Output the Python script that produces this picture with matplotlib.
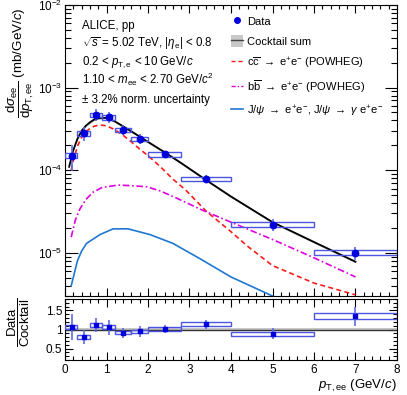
import numpy as np
import matplotlib
matplotlib.use("Agg")
import matplotlib.pyplot as plt
from matplotlib.ticker import LogLocator, MultipleLocator, FixedLocator, FuncFormatter, NullFormatter
from matplotlib.patches import Patch
from matplotlib.lines import Line2D
from matplotlib.legend_handler import HandlerTuple

plt.rcParams['font.family'] = ['Liberation Sans', 'DejaVu Sans']
plt.rcParams['mathtext.fontset'] = 'custom'
plt.rcParams['mathtext.rm'] = 'Liberation Sans'
plt.rcParams['mathtext.it'] = 'Liberation Sans:italic'
plt.rcParams['mathtext.bf'] = 'Liberation Sans:bold'
plt.rcParams['mathtext.sf'] = 'Liberation Sans'

# ---------------- data ----------------
bin_lo = [0.0, 0.3, 0.6, 0.9, 1.2, 1.6, 2.0, 2.8, 4.0, 6.0]
bin_hi = [0.3, 0.6, 0.9, 1.2, 1.6, 2.0, 2.8, 4.0, 6.0, 8.0]
pt_data = [0.16, 0.45, 0.75, 1.05, 1.4, 1.8, 2.4, 3.4, 5.0, 7.0]
xsec = [1.5e-4, 2.8e-4, 4.7e-4, 4.35e-4, 3.1e-4, 2.4e-4, 1.55e-4, 7.9e-5, 2.2e-5, 1.0e-5]
stat_rel = [0.34, 0.19, 0.17, 0.15, 0.15, 0.13, 0.10, 0.12, 0.16, 0.19]
sys_rel = [0.07, 0.07, 0.06, 0.06, 0.06, 0.06, 0.06, 0.06, 0.06, 0.07]

ratio = [1.06, 0.80, 1.12, 1.06, 0.92, 0.95, 1.01, 1.14, 0.89, 1.35]
ratio_stat = [0.34, 0.18, 0.18, 0.20, 0.13, 0.14, 0.10, 0.12, 0.14, 0.25]
ratio_sys = [0.05, 0.05, 0.05, 0.05, 0.05, 0.05, 0.05, 0.06, 0.05, 0.07]

cocktail_pt = [0.1, 0.2, 0.3, 0.4, 0.5, 0.6, 0.7, 0.8, 0.9, 1.0, 1.2, 1.4, 1.6, 1.8,
               2.0, 2.4, 2.8, 3.4, 4.0, 5.0, 6.0, 7.0]
cocktail = [1.1e-4, 1.75e-4, 2.4e-4, 3.0e-4, 3.45e-4, 3.8e-4, 4.1e-4, 4.25e-4, 4.3e-4,
            4.3e-4, 3.9e-4, 3.4e-4, 2.95e-4, 2.55e-4, 2.2e-4, 1.65e-4, 1.22e-4, 7.6e-5,
            4.8e-5, 2.35e-5, 1.35e-5, 7.8e-6]
cocktail_band_rel = 0.03

cc_pt = [0.15, 0.2, 0.3, 0.4, 0.5, 0.6, 0.7, 0.8, 0.9, 1.0, 1.2, 1.4, 1.6, 1.8, 2.0,
         2.3, 2.6, 2.9, 3.4, 4.0, 4.4, 5.0, 6.0, 7.0]
cc = [1.0e-4, 1.3e-4, 1.95e-4, 2.5e-4, 2.9e-4, 3.2e-4, 3.4e-4, 3.5e-4, 3.5e-4, 3.45e-4,
      3.1e-4, 2.65e-4, 2.2e-4, 1.8e-4, 1.5e-4, 1.1e-4, 7.8e-5, 5.8e-5, 3.2e-5, 1.8e-5,
      1.2e-5, 7.0e-6, 4.3e-6, 3.1e-6]

bb_pt = [0.15, 0.25, 0.36, 0.5, 0.67, 0.9, 1.28, 1.6, 1.97, 2.3, 2.77, 3.3, 4.0, 5.0, 6.0, 7.0]
bb = [1.55e-5, 2.5e-5, 3.4e-5, 4.4e-5, 5.4e-5, 6.2e-5, 6.6e-5, 6.5e-5, 6.3e-5, 5.6e-5,
      4.4e-5, 3.3e-5, 2.35e-5, 1.45e-5, 8.7e-6, 5.1e-6]

jpsi_pt = [0.15, 0.3, 0.4, 0.52, 0.84, 1.16, 1.52, 2.05, 2.6, 3.25, 4.0, 5.0]
jpsi = [4.0e-6, 8.0e-6, 1.05e-5, 1.3e-5, 1.66e-5, 1.95e-5, 1.95e-5, 1.66e-5, 1.3e-5,
        8.5e-6, 5.1e-6, 3.0e-6]

# ---------------- figure ----------------
W, H = 407, 395
fig = plt.figure(figsize=(W / 100, H / 100), dpi=100)
L, R = 65, 397
ax = fig.add_axes([L / W, 1 - 296 / H, (R - L) / W, (296 - 5) / H])
axr = fig.add_axes([L / W, 1 - 360 / H, (R - L) / W, (360 - 299) / H])

data_c = '#0000dd'
err_c = '#5b6be6'
box_c = '#4b55e0'
fs = 8.3
lfs = 8.0
tfs = 8.5

lo = np.array(bin_lo); hi = np.array(bin_hi)
xs = np.array(xsec); sr = np.array(sys_rel); st = np.array(stat_rel)

# top panel
cpt = np.array(cocktail_pt); cv = np.array(cocktail)
ax.fill_between(cpt, cv * (1 - cocktail_band_rel), cv * (1 + cocktail_band_rel),
                color='#bbbbbb', lw=0, zorder=1)
ax.plot(cc_pt, cc, color='#ff1a1a', lw=1.2, dashes=(3, 2), zorder=2)
ax.plot(bb_pt, bb, color='#e000e0', lw=1.2, dashes=(4, 1.6, 1, 1.6), zorder=2)
ax.plot(jpsi_pt, jpsi, color='#1f78d0', lw=1.2, zorder=2)
ax.plot(cpt, cv, color='black', lw=1.3, zorder=3)
ax.bar(lo, xs * 2 * sr, width=hi - lo, bottom=xs * (1 - sr), align='edge',
       fill=False, edgecolor=box_c, lw=1.0, zorder=4)
ax.errorbar(pt_data, xs, yerr=xs * st, fmt='o', ms=4.6, color=data_c, ecolor=err_c,
            elinewidth=1.2, capsize=0, zorder=5)

ax.set_xlim(0, 8)
ax.set_yscale('log')
ax.set_ylim(3.0e-6, 1e-2)
ax.yaxis.set_major_locator(LogLocator(base=10, numticks=10))
ax.yaxis.set_minor_locator(LogLocator(base=10, subs=np.arange(2, 10), numticks=50))
ax.yaxis.set_minor_formatter(NullFormatter())
ax.xaxis.set_major_locator(MultipleLocator(1))
ax.xaxis.set_minor_locator(MultipleLocator(0.2))
ax.tick_params(axis='x', which='both', labelbottom=False)
ax.tick_params(which='both', direction='in', top=True, right=True, labelsize=tfs, width=0.8)
ax.tick_params(axis='y', which='major', length=9, pad=2)
ax.tick_params(axis='y', which='minor', length=4.5)
ax.tick_params(axis='x', which='major', length=6)
ax.tick_params(axis='x', which='minor', length=3)
for s in ax.spines.values():
    s.set_linewidth(0.8)

ax.set_ylabel(r'$\dfrac{\mathrm{d}\sigma_{\mathrm{ee}}}{\mathrm{d}p_{\mathrm{T,ee}}}$ (mb/GeV/$c$)',
              fontsize=9.6, loc='top')
ax.yaxis.set_label_coords(-0.088, 0.99)

# text block
tx = (82 - L) / (R - L)
def ty(px):
    return (296 - px) / 291.0
ax.text(tx, ty(28.5), 'ALICE, pp', fontsize=fs, va='baseline', transform=ax.transAxes)
ax.text(tx, ty(47), r'$\sqrt{s}$ = 5.02 TeV, |$\eta_{\mathrm{e}}$| < 0.8', fontsize=fs,
        va='baseline', transform=ax.transAxes)
ax.text(tx, ty(65), r'0.2 < $p_{\mathrm{T,e}}$ < 10 GeV/$c$', fontsize=fs,
        va='baseline', transform=ax.transAxes)
ax.text(tx, ty(83.5), r'1.10 < $m_{\mathrm{ee}}$ < 2.70 GeV/$c^{2}$', fontsize=fs,
        va='baseline', transform=ax.transAxes)
ax.text(tx, ty(102.5), '± 3.2% norm. uncertainty', fontsize=fs,
        va='baseline', transform=ax.transAxes)

# legend
h_data = Line2D([], [], ls='none', marker='o', ms=4.0, color=data_c)
h_cock = (Patch(facecolor='#c8c8c8', edgecolor='none'), Line2D([], [], color='#444444', lw=1.0))
h_cc = Line2D([], [], color='#ff1a1a', lw=1.0, dashes=(3, 2))
h_bb = Line2D([], [], color='#e000e0', lw=1.0, dashes=(3, 1.5, 1, 1.5))
h_jp = Line2D([], [], color='#1f78d0', lw=1.2)
labels = ['Data', 'Cocktail sum',
          r'c$\overline{\mathrm{c}}$ $\rightarrow$ e$^{+}$e$^{-}$ (POWHEG)',
          r'b$\overline{\mathrm{b}}$ $\rightarrow$ e$^{+}$e$^{-}$ (POWHEG)',
          r'J/$\psi$ $\rightarrow$ e$^{+}$e$^{-}$, J/$\psi$ $\rightarrow$ $\gamma$ e$^{+}$e$^{-}$']
leg = ax.legend([h_data, h_cock, h_cc, h_bb, h_jp], labels,
                handler_map={tuple: HandlerTuple(ndivide=1)},
                loc='upper left', bbox_to_anchor=((231 - L) / (R - L), ty(15)),
                fontsize=lfs, frameon=False, handlelength=1.07, handleheight=1.3,
                handletextpad=0.37, labelspacing=0.73, borderpad=0, borderaxespad=0)

# ratio panel
axr.axhspan(0.97, 1.03, color='#c8c8c8', lw=0, zorder=1)
axr.axhline(1.0, color='#333333', lw=1.0, zorder=2)
rt = np.array(ratio); rs = np.array(ratio_sys)
axr.bar(lo, 2 * rs, width=hi - lo, bottom=rt - rs, align='edge', fill=False,
        edgecolor=box_c, lw=1.0, zorder=3)
axr.errorbar(pt_data, rt, yerr=ratio_stat, fmt='s', ms=3.0, color=data_c, ecolor=err_c,
             elinewidth=1.2, capsize=0, zorder=4)
axr.set_xlim(0, 8)
axr.set_ylim(0.2, 1.8)
axr.yaxis.set_major_locator(FixedLocator([0.5, 1.0, 1.5]))
axr.yaxis.set_major_formatter(FuncFormatter(lambda v, p: ('%g' % v)))
axr.yaxis.set_minor_locator(MultipleLocator(0.1))
axr.xaxis.set_major_locator(MultipleLocator(1))
axr.xaxis.set_minor_locator(MultipleLocator(0.2))
axr.tick_params(which='both', direction='in', top=True, right=True, labelsize=tfs, width=0.8)
axr.tick_params(axis='both', which='major', length=6)
axr.tick_params(axis='both', which='minor', length=3)
axr.tick_params(axis='x', which='major', pad=3)
axr.tick_params(axis='y', which='major', pad=2)
for s in axr.spines.values():
    s.set_linewidth(0.8)
axr.set_xlabel(r'$p_{\mathrm{T,ee}}$ (GeV/$c$)', fontsize=9.5, loc='right', labelpad=1)
axr.set_ylabel(r'$\dfrac{\mathrm{Data}}{\mathrm{Cocktail}}$', fontsize=9.5)
axr.yaxis.set_label_coords(-0.1, 0.62)

fig.savefig('out.png', dpi=100)
